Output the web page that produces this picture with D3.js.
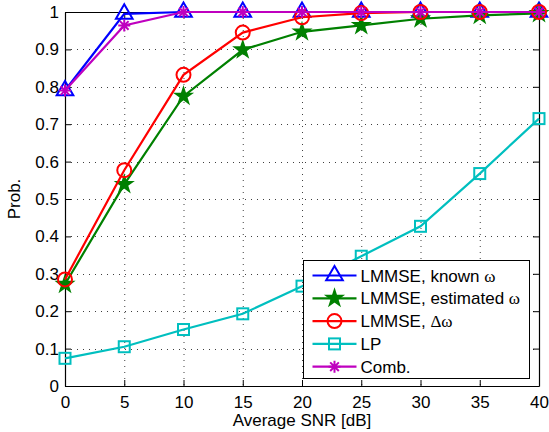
<!DOCTYPE html>
<html>
<head>
<meta charset="utf-8">
<script src="https://cdn.jsdelivr.net/npm/d3@7"></script>
<style>
    body { margin: 0; background: #fff; }
    svg { display: block; font-family: "Liberation Sans", Arial, sans-serif; }
    .sym { font-family: "Liberation Serif", "Times New Roman", serif; }
</style>
</head>
<body>
<svg id="chart" width="549" height="432"></svg>
<script>
// SNR values (x axis)
const snr = [0, 5, 10, 15, 20, 25, 30, 35, 40];

// probabilities
const knownOmega = [0.79, 0.995, 1, 1, 1, 1, 1, 1, 1];
const estOmega = [0.272, 0.539, 0.775, 0.899, 0.947, 0.964, 0.982, 0.991, 0.996];
const deltaOmega = [0.285, 0.577, 0.832, 0.945, 0.986, 0.997, 1, 1, 1];
const lp = [0.074, 0.105, 0.151, 0.193, 0.267, 0.347, 0.427, 0.568, 0.715];
const comb = [0.79, 0.964, 1, 1, 1, 1, 1, 1, 1];

const xTicks = [0, 5, 10, 15, 20, 25, 30, 35, 40];
const yTicks = [0, 0.1, 0.2, 0.3, 0.4, 0.5, 0.6, 0.7, 0.8, 0.9, 1];

const series = [
    { name: 'LMMSE, known ', sym: 'ω', values: knownOmega, color: '#0000ff', marker: 'triangle' },
    { name: 'LMMSE, estimated ', sym: 'ω', values: estOmega, color: '#008000', marker: 'star' },
    { name: 'LMMSE, ', sym: 'Δω', values: deltaOmega, color: '#ff0000', marker: 'circle' },
    { name: 'LP', sym: '', values: lp, color: '#00bfbf', marker: 'square' },
    { name: 'Comb.', sym: '', values: comb, color: '#bf00bf', marker: 'asterisk' }
];

const svg = d3.select('#chart');

const x = d3.scaleLinear().domain([0, 40]).range([65, 539]);
const y = d3.scaleLinear().domain([0, 1]).range([386, 12]);

// grid lines (dotted)
const grid = svg.append('g')
    .attr('stroke', '#000')
    .attr('stroke-width', 1)
    .attr('stroke-dasharray', '1,5')
    .attr('opacity', 0.75);

grid.selectAll('.vg')
    .data(xTicks.slice(1, -1))
    .enter()
    .append('line')
    .attr('x1', d => x(d) + 0.5).attr('x2', d => x(d) + 0.5)
    .attr('y1', y(1)).attr('y2', y(0));

grid.selectAll('.hg')
    .data(yTicks.slice(1, -1))
    .enter()
    .append('line')
    .attr('y1', d => Math.round(y(d)) + 0.5).attr('y2', d => Math.round(y(d)) + 0.5)
    .attr('x1', x(0)).attr('x2', x(40));

// axes, ticks inside on all four sides
const xAxis = d3.axisBottom(x).tickValues(xTicks).tickSizeInner(-6).tickSizeOuter(0).tickPadding(10);
const yAxis = d3.axisLeft(y).tickValues(yTicks).tickSizeInner(-6).tickSizeOuter(0).tickPadding(6)
    .tickFormat(d => d3.format('~g')(d));

svg.append('g')
    .attr('transform', `translate(0,${y(0)})`)
    .call(xAxis);

svg.append('g')
    .attr('transform', `translate(${x(0)},0)`)
    .call(yAxis);

svg.append('g')
    .attr('transform', `translate(0,${y(1)})`)
    .call(d3.axisTop(x).tickValues(xTicks).tickSizeInner(-6).tickSizeOuter(0).tickFormat(''));

svg.append('g')
    .attr('transform', `translate(${x(40)},0)`)
    .call(d3.axisRight(y).tickValues(yTicks).tickSizeInner(-6).tickSizeOuter(0).tickFormat(''));

svg.selectAll('.domain').attr('stroke', '#000').attr('stroke-width', 1.2);
svg.selectAll('.tick line').attr('stroke', '#000');
svg.selectAll('.tick text')
    .attr('fill', '#000')
    .style('font-size', '17px')
    .style('font-family', '"Liberation Sans", Arial, sans-serif');

// axis labels
svg.append('text')
    .attr('x', (x(0) + x(40)) / 2)
    .attr('y', 426)
    .attr('text-anchor', 'middle')
    .style('font-size', '17px')
    .text('Average SNR [dB]');

svg.append('text')
    .attr('transform', `translate(20,${(y(0) + y(1)) / 2}) rotate(-90)`)
    .attr('text-anchor', 'middle')
    .style('font-size', '17px')
    .text('Prob.');

// marker drawing
function drawMarker(g, type, color) {
    if (type === 'triangle') {
        g.append('path').attr('d', d3.symbol(d3.symbolTriangle, 120)())
            .attr('fill', 'none').attr('stroke', color).attr('stroke-width', 2);
    } else if (type === 'star') {
        g.append('path').attr('d', d3.symbol(d3.symbolStar, 85)())
            .attr('fill', color).attr('stroke', color).attr('stroke-width', 1.5);
    } else if (type === 'circle') {
        g.append('circle').attr('r', 7)
            .attr('fill', 'none').attr('stroke', color).attr('stroke-width', 2);
    } else if (type === 'square') {
        g.append('rect').attr('x', -5.5).attr('y', -5.5).attr('width', 11).attr('height', 11)
            .attr('fill', 'none').attr('stroke', color).attr('stroke-width', 2);
    } else if (type === 'asterisk') {
        const r = 6, q = r * 0.72;
        g.append('path')
            .attr('d', `M${-r},0H${r}M0,${-r}V${r}M${-q},${-q}L${q},${q}M${-q},${q}L${q},${-q}`)
            .attr('fill', 'none').attr('stroke', color).attr('stroke-width', 2);
    }
}

const line = d3.line()
    .x(d => x(d.snr))
    .y(d => y(d.value));

series.forEach(s => {
    const pts = snr.map((v, i) => ({ snr: v, value: s.values[i] }));
    const g = svg.append('g');
    g.append('path')
        .datum(pts)
        .attr('fill', 'none')
        .attr('stroke', s.color)
        .attr('stroke-width', 2.2)
        .attr('d', line);

    g.selectAll('.m')
        .data(pts)
        .enter()
        .append('g')
        .attr('transform', d => `translate(${x(d.snr)},${y(d.value)})`)
        .each(function () { drawMarker(d3.select(this), s.marker, s.color); });
});

// legend
const legend = svg.append('g').attr('transform', 'translate(303.5,260.5)');
legend.append('rect')
    .attr('width', 226).attr('height', 118)
    .attr('fill', '#fff').attr('stroke', '#000').attr('stroke-width', 1);

series.forEach((s, i) => {
    const cy = 15 + i * 22.8;
    const row = legend.append('g').attr('transform', `translate(0,${cy})`);
    row.append('line')
        .attr('x1', 9).attr('x2', 53)
        .attr('stroke', s.color).attr('stroke-width', 2.2);
    const m = row.append('g').attr('transform', 'translate(31,0)');
    drawMarker(m, s.marker, s.color);
    const t = row.append('text')
        .attr('x', 57).attr('y', 6)
        .style('font-size', '17px');
    t.append('tspan').text(s.name);
    if (s.sym) t.append('tspan').attr('class', 'sym').text(s.sym);
});
</script>
</body>
</html>
